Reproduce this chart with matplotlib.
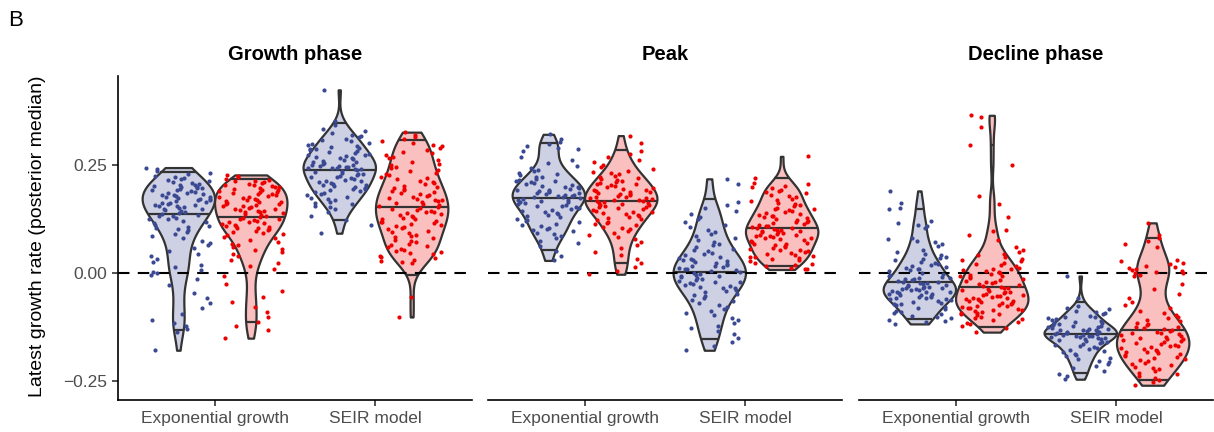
import numpy as np
import matplotlib
matplotlib.use("Agg")
import matplotlib.pyplot as plt
from matplotlib.colors import to_rgba

plt.rcParams["font.family"] = ["Liberation Sans", "DejaVu Sans"]

# --------------------------------------------------------------------------- #
# Data (latest growth rate, posterior median)
# --------------------------------------------------------------------------- #
phases = ["Growth phase", "Peak", "Decline phase"]
models = ["Exponential growth", "SEIR model"]
y_ticks = [-0.25, 0.0, 0.25]
y_tick_labels = ["\u22120.25", "0.00", "0.25"]

growth_exp_blue = [
    0.245, 0.241, 0.236, 0.233, 0.229, 0.226, 0.224, 0.221, 0.219, 0.216, 0.214, 0.212, 0.209, 0.207,
    0.205, 0.204, 0.202, 0.201, 0.199, 0.198, 0.197, 0.195, 0.193, 0.192, 0.190, 0.188, 0.187, 0.185,
    0.184, 0.182, 0.181, 0.179, 0.178, 0.176, 0.175, 0.173, 0.172, 0.170, 0.169, 0.167, 0.166, 0.164,
    0.162, 0.161, 0.159, 0.158, 0.156, 0.155, 0.153, 0.151, 0.150, 0.149, 0.146, 0.144, 0.142, 0.140,
    0.138, 0.136, 0.134, 0.132, 0.129, 0.127, 0.125, 0.122, 0.119, 0.116, 0.113, 0.110, 0.107, 0.105,
    0.102, 0.100, 0.095, 0.091, 0.086, 0.081, 0.076, 0.070, 0.065, 0.058, 0.052, 0.046, 0.040, 0.033,
    0.027, 0.020, 0.014, 0.008, 0.004, 0.001, -0.003, -0.012, -0.028, -0.046, -0.058, -0.069, -0.081,
    -0.093, -0.108, -0.116, -0.121, -0.128, -0.135, -0.178,
]
growth_exp_red = [
    0.228, 0.225, 0.222, 0.219, 0.217, 0.215, 0.213, 0.211, 0.209, 0.207, 0.205, 0.204, 0.202, 0.201,
    0.200, 0.198, 0.196, 0.194, 0.193, 0.191, 0.189, 0.188, 0.186, 0.184, 0.183, 0.181, 0.179, 0.178,
    0.176, 0.175, 0.173, 0.171, 0.170, 0.168, 0.166, 0.165, 0.163, 0.161, 0.160, 0.158, 0.156, 0.155,
    0.153, 0.151, 0.150, 0.148, 0.147, 0.145, 0.144, 0.142, 0.141, 0.139, 0.137, 0.135, 0.133, 0.131,
    0.129, 0.127, 0.125, 0.123, 0.121, 0.120, 0.118, 0.116, 0.114, 0.112, 0.110, 0.109, 0.107, 0.105,
    0.104, 0.102, 0.100, 0.098, 0.096, 0.094, 0.092, 0.089, 0.085, 0.081, 0.077, 0.073, 0.069, 0.065,
    0.061, 0.057, 0.053, 0.049, 0.045, 0.040, 0.032, 0.024, 0.017, 0.009, -0.006, -0.024, -0.041,
    -0.055, -0.066, -0.078, -0.089, -0.101, -0.112, -0.121, -0.132, -0.150,
]
growth_seir_blue = [
    0.425, 0.352, 0.344, 0.334, 0.329, 0.325, 0.321, 0.318, 0.315, 0.312, 0.309, 0.306, 0.303, 0.300,
    0.298, 0.296, 0.293, 0.291, 0.289, 0.287, 0.285, 0.283, 0.281, 0.279, 0.277, 0.275, 0.273, 0.271,
    0.269, 0.267, 0.266, 0.264, 0.262, 0.260, 0.259, 0.257, 0.255, 0.254, 0.252, 0.251, 0.249, 0.248,
    0.247, 0.246, 0.245, 0.244, 0.243, 0.242, 0.241, 0.239, 0.237, 0.235, 0.233, 0.231, 0.229, 0.228,
    0.226, 0.224, 0.222, 0.220, 0.218, 0.217, 0.215, 0.213, 0.211, 0.209, 0.207, 0.205, 0.204, 0.202,
    0.200, 0.198, 0.196, 0.195, 0.193, 0.191, 0.189, 0.187, 0.184, 0.181, 0.178, 0.175, 0.172, 0.169,
    0.166, 0.163, 0.160, 0.157, 0.153, 0.149, 0.141, 0.132, 0.124, 0.112, 0.093,
]
growth_seir_red = [
    0.327, 0.320, 0.315, 0.310, 0.306, 0.302, 0.298, 0.294, 0.290, 0.286, 0.282, 0.278, 0.274, 0.270,
    0.266, 0.262, 0.258, 0.254, 0.250, 0.246, 0.243, 0.240, 0.236, 0.233, 0.230, 0.227, 0.224, 0.221,
    0.218, 0.215, 0.212, 0.209, 0.206, 0.203, 0.200, 0.198, 0.195, 0.192, 0.190, 0.188, 0.185, 0.183,
    0.181, 0.179, 0.177, 0.175, 0.173, 0.171, 0.169, 0.167, 0.165, 0.163, 0.161, 0.159, 0.157, 0.153,
    0.151, 0.149, 0.147, 0.145, 0.143, 0.141, 0.139, 0.137, 0.135, 0.133, 0.131, 0.129, 0.127, 0.125,
    0.122, 0.120, 0.118, 0.116, 0.114, 0.112, 0.110, 0.107, 0.105, 0.102, 0.099, 0.096, 0.093, 0.090,
    0.087, 0.084, 0.081, 0.078, 0.075, 0.072, 0.069, 0.066, 0.063, 0.060, 0.057, 0.055, 0.052, 0.050,
    0.047, 0.044, 0.041, 0.038, 0.035, 0.032, 0.029, 0.026, 0.023, -0.055, -0.101,
]
peak_exp_blue = [
    0.322, 0.310, 0.304, 0.300, 0.296, 0.291, 0.287, 0.283, 0.270, 0.262, 0.255, 0.249, 0.244, 0.240,
    0.236, 0.233, 0.230, 0.227, 0.224, 0.222, 0.219, 0.217, 0.215, 0.213, 0.211, 0.209, 0.207, 0.205,
    0.203, 0.201, 0.199, 0.198, 0.196, 0.194, 0.193, 0.191, 0.190, 0.188, 0.187, 0.185, 0.184, 0.182,
    0.181, 0.180, 0.179, 0.177, 0.176, 0.174, 0.173, 0.171, 0.170, 0.168, 0.166, 0.165, 0.163, 0.161,
    0.159, 0.157, 0.155, 0.153, 0.151, 0.149, 0.147, 0.145, 0.143, 0.140, 0.138, 0.135, 0.133, 0.130,
    0.127, 0.124, 0.121, 0.118, 0.115, 0.112, 0.109, 0.106, 0.103, 0.100, 0.097, 0.094, 0.091, 0.086,
    0.081, 0.076, 0.070, 0.064, 0.052, 0.041, 0.030,
]
peak_exp_red = [
    0.319, 0.302, 0.284, 0.276, 0.269, 0.263, 0.257, 0.251, 0.246, 0.242, 0.238, 0.235, 0.232, 0.229,
    0.226, 0.223, 0.221, 0.218, 0.216, 0.214, 0.212, 0.210, 0.208, 0.206, 0.204, 0.202, 0.200, 0.198,
    0.196, 0.194, 0.193, 0.191, 0.189, 0.188, 0.186, 0.184, 0.183, 0.181, 0.180, 0.178, 0.177, 0.175,
    0.174, 0.172, 0.171, 0.170, 0.168, 0.167, 0.165, 0.164, 0.162, 0.161, 0.159, 0.158, 0.156, 0.154,
    0.153, 0.151, 0.149, 0.147, 0.145, 0.143, 0.141, 0.139, 0.137, 0.135, 0.133, 0.131, 0.128, 0.126,
    0.123, 0.120, 0.117, 0.114, 0.111, 0.108, 0.105, 0.102, 0.098, 0.094, 0.090, 0.085, 0.079, 0.073,
    0.066, 0.058, 0.050, 0.042, 0.034, 0.024, 0.015, 0.006, -0.002,
]
peak_seir_blue = [
    0.219, 0.208, 0.166, 0.159, 0.151, 0.144, 0.138, 0.131, 0.125, 0.119, 0.113, 0.107, 0.101, 0.096,
    0.091, 0.086, 0.081, 0.077, 0.073, 0.069, 0.065, 0.061, 0.057, 0.054, 0.051, 0.048, 0.045, 0.042,
    0.039, 0.036, 0.034, 0.032, 0.030, 0.028, 0.026, 0.024, 0.022, 0.020, 0.018, 0.016, 0.014, 0.012,
    0.010, 0.009, 0.007, 0.005, 0.003, 0.001, -0.001, -0.003, -0.005, -0.007, -0.009, -0.011, -0.013,
    -0.015, -0.017, -0.019, -0.021, -0.023, -0.025, -0.027, -0.029, -0.031, -0.033, -0.035, -0.038,
    -0.041, -0.044, -0.047, -0.050, -0.053, -0.057, -0.061, -0.065, -0.069, -0.073, -0.077, -0.082,
    -0.087, -0.092, -0.097, -0.103, -0.109, -0.115, -0.121, -0.127, -0.134, -0.141, -0.149, -0.158,
    -0.168, -0.178,
]
peak_seir_red = [
    0.271, 0.221, 0.209, 0.206, 0.203, 0.200, 0.197, 0.194, 0.191, 0.188, 0.185, 0.182, 0.179, 0.176,
    0.173, 0.170, 0.167, 0.164, 0.161, 0.158, 0.155, 0.152, 0.150, 0.148, 0.146, 0.144, 0.142, 0.140,
    0.138, 0.136, 0.134, 0.132, 0.130, 0.128, 0.126, 0.124, 0.122, 0.120, 0.118, 0.116, 0.114, 0.112,
    0.110, 0.109, 0.107, 0.106, 0.104, 0.103, 0.101, 0.100, 0.099, 0.097, 0.096, 0.095, 0.093, 0.092,
    0.090, 0.089, 0.087, 0.086, 0.084, 0.083, 0.081, 0.079, 0.077, 0.075, 0.073, 0.071, 0.069, 0.067,
    0.065, 0.063, 0.061, 0.059, 0.057, 0.055, 0.053, 0.051, 0.049, 0.047, 0.045, 0.043, 0.041, 0.039,
    0.037, 0.035, 0.033, 0.031, 0.028, 0.025, 0.022, 0.019, 0.016, 0.013, 0.011, 0.009,
]
decline_exp_blue = [
    0.191, 0.163, 0.152, 0.148, 0.121, 0.116, 0.112, 0.109, 0.105, 0.082, 0.079, 0.076, 0.072, 0.068,
    0.064, 0.055, 0.050, 0.046, 0.042, 0.039, 0.036, 0.033, 0.030, 0.027, 0.024, 0.021, 0.019, 0.017,
    0.015, 0.013, 0.011, 0.009, 0.007, 0.005, 0.002, -0.001, -0.004, -0.007, -0.008, -0.010, -0.011,
    -0.013, -0.014, -0.016, -0.017, -0.019, -0.020, -0.022, -0.023, -0.025, -0.026, -0.028, -0.029,
    -0.031, -0.032, -0.033, -0.034, -0.035, -0.036, -0.037, -0.038, -0.039, -0.040, -0.042, -0.043,
    -0.044, -0.046, -0.047, -0.048, -0.050, -0.051, -0.052, -0.054, -0.055, -0.056, -0.058, -0.059,
    -0.060, -0.062, -0.064, -0.066, -0.068, -0.070, -0.072, -0.074, -0.077, -0.080, -0.083, -0.086,
    -0.089, -0.092, -0.095, -0.098, -0.101, -0.104, -0.107, -0.110, -0.113, -0.117,
]
decline_exp_red = [
    0.366, 0.363, 0.339, 0.297, 0.252, 0.180, 0.160, 0.131, 0.101, 0.098, 0.088, 0.078, 0.060, 0.055,
    0.050, 0.046, 0.042, 0.038, 0.034, 0.031, 0.028, 0.025, 0.022, 0.019, 0.016, 0.013, 0.011, 0.009,
    0.007, 0.005, 0.003, 0.001, -0.001, -0.003, -0.005, -0.007, -0.009, -0.011, -0.013, -0.015, -0.017,
    -0.019, -0.021, -0.023, -0.025, -0.027, -0.029, -0.031, -0.033, -0.035, -0.037, -0.039, -0.041,
    -0.043, -0.044, -0.045, -0.047, -0.049, -0.051, -0.052, -0.053, -0.055, -0.057, -0.058, -0.059,
    -0.060, -0.061, -0.063, -0.065, -0.067, -0.068, -0.069, -0.071, -0.073, -0.075, -0.076, -0.077,
    -0.079, -0.081, -0.083, -0.084, -0.085, -0.087, -0.089, -0.091, -0.092, -0.093, -0.095, -0.097,
    -0.100, -0.103, -0.106, -0.109, -0.112, -0.115, -0.118, -0.122, -0.127, -0.136,
]
decline_seir_blue = [
    -0.006, -0.058, -0.076, -0.080, -0.083, -0.086, -0.089, -0.092, -0.095, -0.098, -0.100, -0.102,
    -0.104, -0.106, -0.108, -0.110, -0.112, -0.114, -0.116, -0.118, -0.119, -0.121, -0.122, -0.124,
    -0.125, -0.127, -0.128, -0.129, -0.130, -0.131, -0.132, -0.133, -0.134, -0.135, -0.136, -0.137,
    -0.138, -0.139, -0.140, -0.141, -0.142, -0.143, -0.144, -0.145, -0.146, -0.147, -0.148, -0.149,
    -0.150, -0.152, -0.153, -0.155, -0.156, -0.158, -0.160, -0.162, -0.164, -0.166, -0.168, -0.170,
    -0.172, -0.174, -0.177, -0.180, -0.183, -0.186, -0.189, -0.192, -0.195, -0.198, -0.202, -0.206,
    -0.210, -0.215, -0.220, -0.226, -0.232, -0.238, -0.245,
]
decline_seir_red = [
    0.117, 0.090, 0.083, 0.075, 0.068, 0.062, 0.032, 0.028, 0.024, 0.021, 0.018, 0.015, 0.012, 0.010,
    0.008, 0.006, 0.004, 0.002, 0.000, -0.003, -0.006, -0.025, -0.036, -0.047, -0.058, -0.066, -0.074,
    -0.080, -0.086, -0.091, -0.096, -0.100, -0.104, -0.108, -0.111, -0.114, -0.117, -0.120, -0.123,
    -0.125, -0.127, -0.129, -0.131, -0.133, -0.135, -0.137, -0.139, -0.141, -0.143, -0.145, -0.147,
    -0.149, -0.151, -0.153, -0.155, -0.157, -0.159, -0.161, -0.163, -0.165, -0.167, -0.169, -0.171,
    -0.173, -0.175, -0.177, -0.179, -0.181, -0.183, -0.185, -0.187, -0.189, -0.191, -0.193, -0.195,
    -0.198, -0.201, -0.204, -0.207, -0.210, -0.213, -0.216, -0.219, -0.222, -0.226, -0.230, -0.234,
    -0.238, -0.242, -0.248, -0.252, -0.259,
]

panel_data = {
    "Growth phase": [(growth_exp_blue, growth_exp_red), (growth_seir_blue, growth_seir_red)],
    "Peak": [(peak_exp_blue, peak_exp_red), (peak_seir_blue, peak_seir_red)],
    "Decline phase": [(decline_exp_blue, decline_exp_red), (decline_seir_blue, decline_seir_red)],
}

POINT_COLS = ["#3B4992", "#EE0000"]
OUTLINE = "#333333"
QUANTILES = [0.025, 0.5, 0.975]
DODGE = 0.225          # half of the dodge width (0.9 / 2 / 2)
HALF_W = 0.225         # max half-width of one violin
JIT = 0.2              # jitter half-width


def violin_profile(vals, n=512):
    """Gaussian KDE on the data range (bw.nrd0), scaled to max 1."""
    v = np.asarray(vals, dtype=float)
    sd = v.std(ddof=1)
    q75, q25 = np.percentile(v, [75, 25])
    bw = 0.9 * min(sd, (q75 - q25) / 1.34) * len(v) ** -0.2
    ys = np.linspace(v.min(), v.max(), n)
    dens = np.exp(-0.5 * ((ys[:, None] - v[None, :]) / bw) ** 2).sum(axis=1)
    return ys, dens / dens.max()


def jitter_offsets(n, shift):
    # deterministic low-discrepancy jitter (layout only)
    k = np.arange(n)
    u = (k * 0.7548776662 + k * k * 0.4142135624 + shift) % 1.0
    return (u - 0.5) * 2 * JIT


# --------------------------------------------------------------------------- #
# Figure
# --------------------------------------------------------------------------- #
W, H = 1214, 432
fig = plt.figure(figsize=(W / 100, H / 100), dpi=100)

panel_left = [118, 488, 859]
panel_w = 354
ax_bottom, ax_top = 399.5, 76

for p, phase in enumerate(phases):
    ax = fig.add_axes([panel_left[p] / W, (H - ax_bottom) / H,
                       panel_w / W, (ax_bottom - ax_top) / H])
    ax.set_xlim(0.4, 2.6)
    ax.set_ylim(-0.292, 0.457)

    for m, pair in enumerate(panel_data[phase]):
        for g, vals in enumerate(pair):
            cx = (m + 1) + (-DODGE if g == 0 else DODGE)
            ys, dens = violin_profile(vals)
            ax.fill_betweenx(ys, cx - HALF_W * dens, cx + HALF_W * dens,
                             facecolor=to_rgba(POINT_COLS[g], 0.25),
                             edgecolor=OUTLINE, linewidth=1.6, zorder=2)
            cdf = np.cumsum(dens) / dens.sum()
            qy = np.interp(QUANTILES, cdf, ys)
            qw = np.interp(qy, ys, dens) * HALF_W
            for yq, wq in zip(qy, qw):
                ax.plot([cx - wq, cx + wq], [yq, yq], color=OUTLINE,
                        linewidth=1.6, zorder=2.5, solid_capstyle="butt")

    ax.axhline(0, color="black", linewidth=1.5, dashes=(5.5, 4), zorder=3)

    for m, pair in enumerate(panel_data[phase]):
        for g, vals in enumerate(pair):
            cx = (m + 1) + (-DODGE if g == 0 else DODGE)
            xs = cx + jitter_offsets(len(vals), 0.13 * (p * 4 + m * 2 + g))
            ax.scatter(xs, vals, s=9, color=POINT_COLS[g], linewidths=0, zorder=4)

    # axes styling
    for side in ["top", "right", "left"]:
        ax.spines[side].set_visible(False)
    ax.spines["bottom"].set_linewidth(1.2)
    ax.set_xticks([1, 2])
    ax.set_xticklabels(models, fontsize=12.5, color="#4D4D4D")
    ax.tick_params(axis="x", length=4, width=1.2, color="#333333", pad=4)
    if p == 0:
        ax.spines["left"].set_linewidth(1.2)
        ax.spines["left"].set_visible(True)
        ax.set_yticks(y_ticks)
        ax.set_yticklabels(y_tick_labels, fontsize=12.5, color="#4D4D4D")
        ax.tick_params(axis="y", length=4, width=1.2, color="#333333", pad=4)
    else:
        ax.set_yticks([])

    ax.text(0.5, 1 + (ax_top - 55) / (ax_bottom - ax_top), phase,
            transform=ax.transAxes, ha="center", va="center",
            fontsize=14.5, fontweight="bold")

fig.text(38 / W, 1 - 236 / H, "Latest growth rate (posterior median)",
         rotation=90, ha="center", va="center", fontsize=14)
fig.text(8 / W, 1 - 20 / H, "B", ha="left", va="center", fontsize=16)

fig.savefig("out.png", dpi=100)
